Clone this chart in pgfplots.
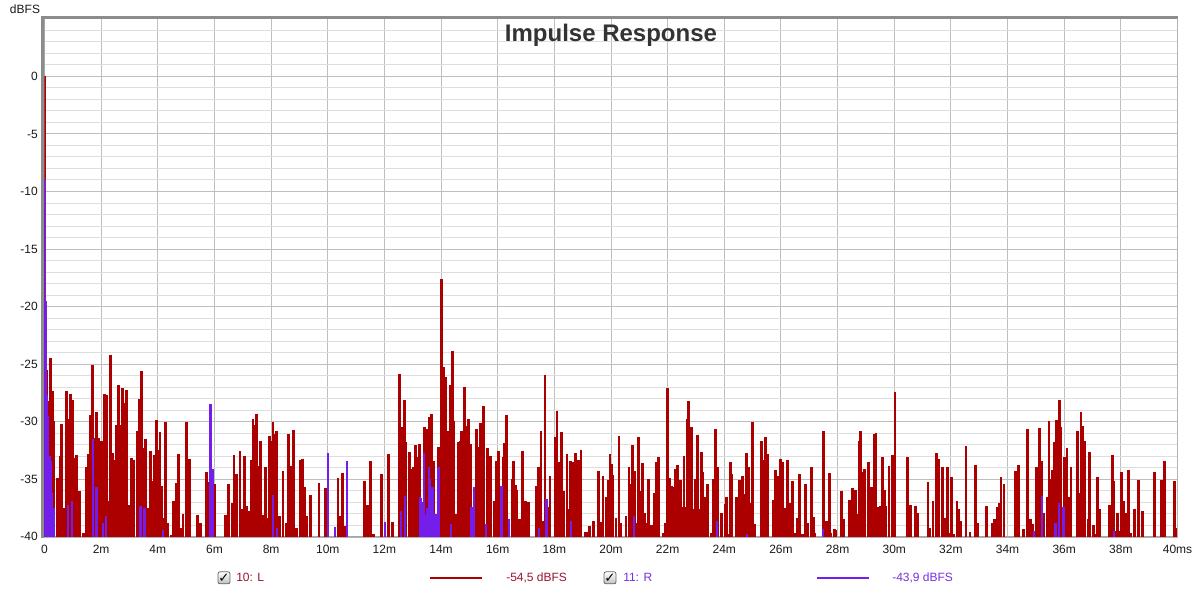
\documentclass[border=0pt]{standalone}
\usepackage{pgfplots}
\pgfplotsset{compat=1.18}
\usepackage{pgfplotstable}
\usepackage{fontspec}
\setmainfont{Liberation Sans}
\newfontfamily\dejavu{DejaVu Sans}
\definecolor{redc}{RGB}{172,0,0}
\definecolor{purc}{RGB}{115,30,235}
\definecolor{redtxt}{RGB}{158,18,48}
\definecolor{purtxt}{RGB}{118,48,222}
\definecolor{majgrid}{RGB}{190,190,190}
\definecolor{mingrid}{RGB}{222,222,222}

\pgfplotstableread{
x y
0 0
0.02 -11.5
0.06 -25.5
0.10 -29.5
0.153 -28.2
0.212 -24.45
0.271 -27.29
0.318 -29.96
0.471 -34.88
0.554 -33.0
0.601 -30.19
0.671 -37.49
0.789 -27.35
0.860 -29.72
0.919 -27.55
0.978 -28.07
1.037 -33.14
1.131 -32.86
1.225 -35.99
1.366 -39.67
1.496 -33.96
1.567 -32.8
1.625 -29.43
1.696 -25.09
1.755 -31.41
1.837 -29.14
1.908 -31.41
2.026 -31.64
2.108 -27.58
2.179 -27.64
2.25 -36.91
2.32 -24.16
2.39 -32.71
2.46 -33.29
2.544 -30.25
2.615 -26.83
2.686 -30.25
2.756 -27.09
2.839 -28.36
2.909 -27.23
2.992 -37.2
3.074 -33.14
3.157 -33.29
3.286 -30.83
3.357 -28.01
3.428 -25.55
3.498 -32.28
3.569 -31.46
3.64 -37.49
3.746 -32.51
3.804 -35.17
3.887 -32.86
3.958 -29.87
4.016 -32.42
4.075 -30.88
4.134 -35.61
4.205 -38.36
4.276 -30.04
4.346 -38.8
4.488 -39.81
4.558 -36.86
4.653 -35.32
4.735 -32.8
4.817 -39.23
4.888 -38.01
5.018 -30.01
5.112 -33.23
5.395 -38.07
5.512 -38.8
5.713 -34.39
5.76 -35.23
5.925 -34.1
6.019 -35.41
6.396 -38.07
6.49 -35.41
6.62 -37.06
6.69 -32.86
6.773 -34.51
6.902 -32.57
6.985 -37.55
7.055 -32.94
7.15 -37.35
7.244 -37.78
7.303 -33.29
7.362 -29.72
7.42 -30.25
7.479 -29.29
7.55 -33.81
7.621 -31.64
7.715 -38.07
7.809 -33.96
7.88 -38.36
7.951 -31.26
7.998 -31.7
8.068 -29.99
8.139 -31.03
8.198 -30.83
8.292 -38.22
8.422 -34.3
8.528 -38.8
8.622 -31.09
8.704 -33.81
8.787 -30.68
8.893 -39.23
9.022 -33.29
9.105 -33.2
9.187 -35.7
9.258 -38.22
9.387 -36.39
9.694 -35.29
9.929 -35.75
10.365 -34.9
10.436 -38.17
10.518 -34.43
10.601 -39.04
11.307 -35.13
11.402 -37.22
11.496 -33.39
11.625 -39.77
11.896 -34.55
12.132 -32.81
12.285 -38.67
12.544 -25.86
12.638 -30.43
12.697 -28.12
12.744 -31.8
12.874 -32.61
12.945 -34.12
13.039 -33.91
13.11 -32.03
13.18 -33.1
13.251 -31.94
13.404 -30.43
13.463 -31.42
13.534 -30.64
13.604 -29.57
13.675 -29.33
13.746 -33.39
13.91 -32.17
13.969 -32.81
14.028 -17.59
14.099 -25.28
14.158 -26.09
14.228 -32.96
14.275 -30.84
14.334 -26.78
14.393 -23.83
14.452 -29.91
14.511 -38.03
14.605 -31.8
14.676 -31.65
14.735 -30.78
14.817 -27.01
14.876 -30.35
14.97 -29.77
15.03 -31.94
15.253 -30.64
15.324 -32.23
15.383 -30.12
15.442 -31.07
15.512 -28.64
15.642 -32.32
15.748 -32.96
15.877 -36.87
15.96 -33.45
16.042 -32.52
16.184 -33.1
16.243 -31.88
16.313 -29.39
16.502 -34.99
16.561 -33.39
16.631 -35.51
16.667 -35.94
16.726 -38.46
16.808 -38.41
16.879 -32.52
16.985 -36.87
17.079 -37.01
17.35 -35.57
17.432 -33.97
17.526 -30.84
17.609 -38.61
17.668 -25.94
17.762 -37.45
17.844 -34.7
18.021 -31.36
18.092 -29.04
18.151 -33.54
18.245 -30.93
18.316 -36.0
18.445 -32.81
18.516 -37.59
18.563 -33.45
18.681 -33.54
18.751 -32.75
18.846 -33.33
18.94 -32.46
19.105 -39.62
19.164 -39.54
19.234 -39.1
19.388 -38.61
19.564 -34.26
19.647 -38.75
19.717 -34.7
19.823 -36.58
19.894 -35.07
19.965 -32.81
20.023 -33.68
20.059 -34.61
20.177 -38.32
20.283 -31.28
20.354 -38.76
20.53 -38.18
20.636 -33.89
20.695 -35.42
20.766 -32.0
20.837 -34.26
20.907 -38.76
20.978 -31.31
21.037 -36.0
21.108 -33.6
21.19 -37.89
21.261 -38.76
21.331 -34.99
21.426 -38.96
21.532 -36.21
21.602 -33.48
21.673 -33.1
21.85 -39.63
21.92 -38.76
21.991 -27.08
22.062 -34.9
22.132 -35.57
22.191 -35.63
22.262 -34.12
22.356 -33.77
22.45 -35.08
22.521 -37.45
22.58 -32.96
22.651 -37.45
22.686 -29.77
22.745 -28.18
22.792 -34.26
22.851 -30.5
22.921 -37.54
22.98 -34.99
23.051 -31.13
23.122 -37.6
23.181 -32.61
23.251 -34.35
23.322 -36.58
23.404 -35.42
23.534 -39.63
23.616 -34.99
23.687 -30.64
23.758 -33.92
23.887 -37.97
24.029 -37.16
24.088 -36.5
24.158 -39.77
24.205 -33.48
24.264 -34.55
24.417 -36.58
24.476 -39.77
24.535 -35.08
24.582 -35.83
24.653 -34.7
24.724 -36.24
24.771 -32.73
24.841 -33.92
24.935 -37.02
25.006 -30.0
25.065 -38.9
25.324 -31.71
25.383 -33.34
25.466 -31.31
25.536 -32.76
25.725 -36.81
25.819 -34.21
25.878 -34.7
25.972 -33.25
26.055 -33.54
26.137 -37.51
26.231 -33.34
26.314 -37.02
26.396 -35.13
26.467 -39.63
26.573 -38.32
26.644 -34.55
26.75 -39.77
26.867 -35.37
26.95 -38.84
27.079 -33.92
27.15 -38.26
27.197 -39.63
27.503 -30.79
27.621 -38.61
27.703 -34.47
27.762 -39.63
27.88 -39.34
27.927 -39.42
28.127 -36.0
28.21 -38.41
28.422 -36.81
28.528 -35.77
28.634 -35.95
28.681 -38.03
28.752 -31.66
28.811 -30.79
28.87 -34.41
28.952 -34.12
29.093 -33.54
29.199 -35.71
29.282 -31.08
29.353 -30.99
29.411 -37.45
29.505 -37.31
29.576 -33.05
29.647 -35.92
29.706 -37.31
29.812 -33.83
29.93 -32.87
30.024 -27.45
30.459 -33.1
30.577 -37.22
30.742 -37.31
30.836 -37.89
31.19 -35.22
31.26 -39.19
31.366 -36.87
31.496 -32.73
31.566 -33.25
31.696 -33.89
31.767 -38.32
31.884 -33.97
31.943 -39.63
32.026 -34.79
32.096 -39.77
32.214 -36.87
32.285 -37.54
32.344 -38.61
32.532 -32.15
32.673 -39.54
32.874 -33.74
32.956 -38.76
33.262 -37.34
33.463 -38.76
33.545 -38.47
33.627 -37.45
33.698 -37.02
33.769 -34.84
33.875 -35.42
34.287 -34.26
34.381 -33.77
34.558 -39.34
34.711 -30.64
34.817 -38.47
34.888 -38.9
35.017 -33.97
35.076 -37.89
35.135 -30.55
35.194 -33.39
35.276 -37.89
35.394 -36.58
35.465 -29.92
35.524 -34.99
35.583 -34.18
35.642 -31.8
35.724 -29.86
35.771 -33.1
35.83 -28.09
35.889 -30.5
35.948 -38.47
36.018 -33.1
36.101 -32.32
36.172 -36.5
36.242 -33.92
36.466 -30.79
36.537 -36.15
36.596 -29.19
36.655 -30.41
36.725 -31.71
36.843 -38.47
36.902 -32.67
37.043 -38.96
37.114 -39.77
37.173 -34.84
37.267 -37.54
37.597 -37.22
37.691 -32.87
37.75 -35.13
37.809 -39.48
37.891 -37.89
37.95 -39.48
38.021 -34.35
38.092 -36.87
38.186 -37.97
38.256 -34.21
38.351 -39.63
38.468 -37.54
38.61 -35.08
38.751 -37.74
39.2 -34.35
39.434 -35.02
39.529 -33.39
39.906 -35.19
39.97 -39.19
}\redtab

\pgfplotstableread{
x y
0 -8.9
0.03 -19.5
0.07 -27.7
0.12 -29.5
0.17 -33.0
0.212 -33.4
0.271 -36.2
0.33 -37.5
0.82 -37.2
0.98 -36.9
1.71 -31.5
1.83 -35.7
2.06 -38.8
2.18 -38.2
3.39 -37.3
3.53 -37.5
4.18 -39.4
5.866 -28.5
5.93 -34.1
8.07 -36.39
8.21 -39.23
10.012 -32.75
10.247 -39.13
10.683 -33.39
12.026 -38.67
12.591 -37.74
12.721 -36.43
13.25 -36.5
13.298 -36.64
13.33 -37.0
13.404 -32.75
13.46 -38.0
13.52 -37.5
13.581 -33.97
13.62 -35.0
13.675 -35.71
13.72 -35.7
13.8 -38.0
13.91 -33.97
14.358 -38.9
15.077 -37.45
15.159 -35.71
15.595 -38.9
16.137 -35.57
16.408 -38.46
17.468 -39.19
17.727 -36.72
18.587 -38.61
20.813 -38.18
23.746 -38.61
24.794 -39.77
27.48 -39.34
34.935 -39.48
35.218 -36.44
35.688 -38.76
35.806 -37.02
35.971 -37.45
37.75 -39.5
}\purtab

\begin{document}
\begin{tikzpicture}
\begin{scope}[shift={(-33.375pt,402pt)}, x=0.75pt, y=-0.75pt]
  \useasboundingbox (0,0) rectangle (1200,593);
\end{scope}
\begin{axis}[
  at={(0,0)}, anchor=south west,
  scale only axis, width=849.75pt, height=388.5pt,
  xmin=0, xmax=40, ymin=-40, ymax=5,
  xtick={0,2,...,40},
  xticklabels={0,2m,4m,6m,8m,10m,12m,14m,16m,18m,20m,22m,24m,26m,28m,30m,32m,34m,36m,38m,40ms},
  ytick={-40,-35,...,0},
  yticklabels={-40,-35,-30,-25,-20,-15,-10,-5,0},
  minor ytick={-39,-38,...,4},
  grid=both,
  major grid style={draw=majgrid, line width=0.75pt},
  minor grid style={draw=mingrid, line width=0.75pt},
  major tick length=0pt, minor tick length=0pt,
  axis line style={draw=black!35, line width=0.75pt},
  tick label style={font=\fontsize{9}{10}\selectfont, text=black!90},
  xticklabel style={yshift=-3pt},
  yticklabel style={xshift=-1.5pt},
  clip=true,
]
\addplot[draw=none, mark=none, forget plot,
  error bars/.cd, y dir=minus, y explicit, error mark=none,
  error bar style={draw=redc, line width=2.1pt}]
  table[x=x, y=y, y error minus expr=\thisrow{y}+40.5] {\redtab};
\addplot[draw=none, mark=none, forget plot,
  error bars/.cd, y dir=minus, y explicit, error mark=none,
  error bar style={draw=purc, line width=1.8pt}]
  table[x=x, y=y, y error minus expr=\thisrow{y}+40.5] {\purtab};
\end{axis}
\begin{scope}[shift={(-33.375pt,402pt)}, x=0.75pt, y=-0.75pt]
  % frame shadow
  \draw[black!45, line width=2.25pt] (42.5,537) -- (42.5,16.5) -- (1178,16.5);
  \draw[black!30, line width=0.75pt] (1177.5,17) -- (1177.5,536.5) -- (44,536.5);
  % title
  \node[text=black!80, font=\fontsize{18}{20}\selectfont\bfseries] at (611,34) {Impulse Response};
  % dBFS
  \node[font=\fontsize{9}{10}\selectfont, text=black!90] at (25,8) {dBFS};
  % legend
  \foreach \cx in {224,610}{
    \draw[black!60, rounded corners=1.5pt, top color=white, bottom color=black!25, line width=0.6pt] (\cx-6,571) rectangle (\cx+6,583);
    \node[font=\dejavu\fontsize{10}{11}\selectfont\bfseries, text=black] at (\cx,577) {✓};
  }
  \node[anchor=west, inner sep=0, text=redtxt, font=\fontsize{9}{10}\selectfont] at (236,577) {10: L};
  \draw[redc, line width=1.5pt] (430,577) -- (482,577);
  \node[anchor=west, inner sep=0, text=redtxt, font=\fontsize{9}{10}\selectfont] at (506,577) {-54,5 dBFS};
  \node[anchor=west, inner sep=0, text=purtxt, font=\fontsize{9}{10}\selectfont] at (623,577) {11: R};
  \draw[purc, line width=1.5pt] (817,577) -- (869,577);
  \node[anchor=west, inner sep=0, text=purtxt, font=\fontsize{9}{10}\selectfont] at (892,577) {-43,9 dBFS};
\end{scope}
\end{tikzpicture}
\end{document}
